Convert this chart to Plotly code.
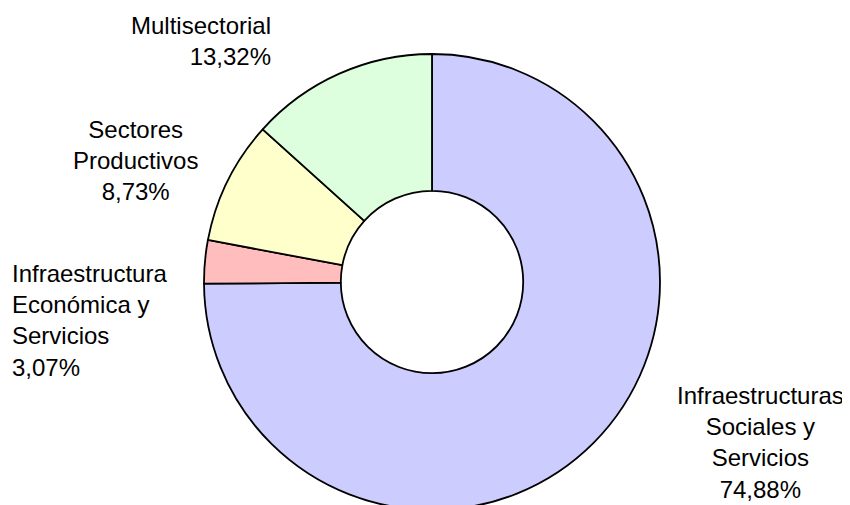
import plotly.graph_objects as go

labels = ["Infraestructuras Sociales y Servicios", "Infraestructura Económica y Servicios",
          "Sectores Productivos", "Multisectorial"]
label_lines = ["Infraestructuras<br>Sociales y<br>Servicios",
               "Infraestructura<br>Económica y<br>Servicios",
               "Sectores<br>Productivos",
               "Multisectorial"]
values = [74.88, 3.07, 8.73, 13.32]
colors = ["#CCCCFF", "#FFBDBD", "#FFFFCC", "#DDFFDD"]

# figure is a bit taller than the window so the ring can run past the bottom edge,
# as in the reference (page body adds an 8px offset)
W, H = 850, 520
cx, cy, r = 424, 274, 228  # pixel centre (from top of figure) and radius

fig = go.Figure(go.Pie(
    labels=labels, values=values, sort=False, direction="clockwise", rotation=0,
    hole=0.40, textinfo="none", hoverinfo="label+percent",
    marker=dict(colors=colors, line=dict(color="black", width=1.8)),
    domain=dict(x=[(cx - r) / W, (cx + r) / W], y=[(H - cy - r) / H, (H - cy + r) / H]),
    showlegend=False,
))

def fmt(v):
    return f"{v:.2f}".replace(".", ",") + "%"

# label placements: (x px, y px from top, xanchor, align)
placements = [
    (752, 434, "center", "center"),
    (2, 312, "left", "left"),
    (127, 152, "center", "center"),
    (265, 33, "right", "right"),
]
for txt, v, (px, py, xa, al) in zip(label_lines, values, placements):
    fig.add_annotation(x=px / W, y=1 - py / H, xref="paper", yref="paper",
                       text=f"{txt}<br>{fmt(v)}", showarrow=False,
                       xanchor=xa, yanchor="middle", align=al,
                       font=dict(family="Liberation Sans, Arial", size=24, color="black"))

fig.update_layout(width=W, height=H, margin=dict(l=0, r=0, t=0, b=0),
                  paper_bgcolor="white", plot_bgcolor="white")
fig.write_html("out.html")
